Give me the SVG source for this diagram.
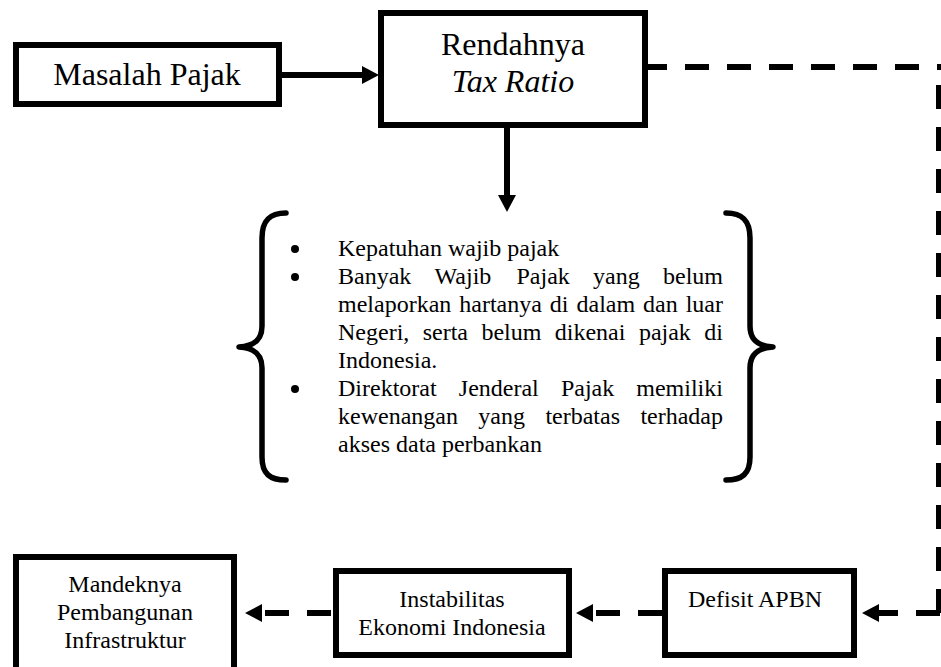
<svg xmlns="http://www.w3.org/2000/svg" width="941" height="667" viewBox="0 0 941 667">
  <style>
    .box { fill: #ffffff; stroke: #000000; stroke-width: 6; }
    .t32 { font-family: "Liberation Serif", "Times New Roman", serif; font-size: 32px; fill: #000000; }
    .t24 { font-family: "Liberation Serif", "Times New Roman", serif; font-size: 24px; fill: #000000; }
    .mid { text-anchor: middle; }
    .end { text-anchor: end; }
    .solid { fill: none; stroke: #000000; stroke-width: 6; }
    .dash { fill: none; stroke: #000000; stroke-width: 6; stroke-dasharray: 24 18; }
    .brace { fill: none; stroke: #000000; stroke-width: 5.5; stroke-linecap: round; stroke-linejoin: round; }
  </style>
  <defs>
    <marker id="head" markerUnits="userSpaceOnUse" viewBox="0 0 17 18" markerWidth="17" markerHeight="18" refX="0" refY="9" orient="auto">
      <path d="M0,0 L17,9 L0,18 z" fill="#000000"/>
    </marker>
  </defs>

  <rect width="941" height="667" fill="#ffffff"/>

  <!-- connectors -->
  <g id="connectors">
    <path class="solid" d="M282 75 H362" marker-end="url(#head)"/>
    <path class="solid" d="M507 128 V195" marker-end="url(#head)"/>
    <path class="dash" d="M643 67 H942"/>
    <path class="dash" d="M939 85 V613"/>
    <path class="dash" d="M940 613 H879" marker-end="url(#head)"/>
    <path class="dash" d="M662 613 H593" marker-end="url(#head)"/>
    <path class="dash" d="M331 613 H262" marker-end="url(#head)"/>
  </g>

  <g id="masalah-pajak">
    <rect class="box" x="16" y="45" width="263" height="59"/>
    <text class="t32 mid" x="147" y="85">Masalah Pajak</text>
  </g>

  <g id="rendahnya-tax-ratio">
    <rect class="box" x="381" y="13" width="264" height="112"/>
    <text class="t32 mid" x="513" y="55">Rendahnya</text>
    <text class="t32 mid" x="513" y="92" font-style="italic">Tax Ratio</text>
  </g>

  <g id="penyebab">
    <path class="brace" d="M286 213 C270 213 262 220 262 238 L262 326 C262 340 254 346 239 347 C254 348 262 354 262 368 L262 457 C262 474 270 480 286 480"/>
    <path class="brace" d="M726 213 C742 213 750 220 750 238 L750 326 C750 340 758 346 773 347 C758 348 750 354 750 368 L750 457 C750 474 742 480 726 480"/>
    <circle cx="295" cy="249" r="4"/>
    <circle cx="295" cy="277" r="4"/>
    <circle cx="295" cy="389" r="4"/>
    <text class="t24" x="338" y="256">Kepatuhan wajib pajak</text>
    <text class="t24" y="284"><tspan x="338">Banyak</tspan><tspan x="434.6">Wajib</tspan><tspan x="516.5">Pajak</tspan><tspan x="593.1">yang</tspan><tspan x="663">belum</tspan></text>
    <text class="t24" y="312"><tspan x="338">melaporkan</tspan><tspan x="459.3">hartanya</tspan><tspan x="549.8">di</tspan><tspan x="576.5">dalam</tspan><tspan x="643.1">dan</tspan><tspan x="685.7">luar</tspan></text>
    <text class="t24" y="340"><tspan x="338">Negeri,</tspan><tspan x="422.7">serta</tspan><tspan x="481.4">belum</tspan><tspan x="554.8">dikenai</tspan><tspan x="638.9">pajak</tspan><tspan x="704.3">di</tspan></text>
    <text class="t24" x="338" y="368">Indonesia.</text>
    <text class="t24" y="396"><tspan x="338">Direktorat</tspan><tspan x="458.8">Jenderal</tspan><tspan x="560.9">Pajak</tspan><tspan x="636.3">memiliki</tspan></text>
    <text class="t24" y="424"><tspan x="338">kewenangan</tspan><tspan x="478.3">yang</tspan><tspan x="545.4">terbatas</tspan><tspan x="640.4">terhadap</tspan></text>
    <text class="t24" x="338" y="452">akses data perbankan</text>
  </g>

  <g id="defisit-apbn">
    <rect class="box" x="665" y="571" width="189" height="84"/>
    <text class="t24 mid" x="755" y="607">Defisit APBN</text>
  </g>

  <g id="instabilitas-ekonomi">
    <rect class="box" x="336" y="571" width="233" height="84"/>
    <text class="t24 mid" x="452" y="607">Instabilitas</text>
    <text class="t24 mid" x="452" y="635">Ekonomi Indonesia</text>
  </g>

  <g id="mandeknya-pembangunan">
    <rect class="box" x="16" y="557" width="218" height="120"/>
    <text class="t24 mid" x="125" y="592">Mandeknya</text>
    <text class="t24 mid" x="125" y="620">Pembangunan</text>
    <text class="t24 mid" x="125" y="648">Infrastruktur</text>
  </g>
</svg>
